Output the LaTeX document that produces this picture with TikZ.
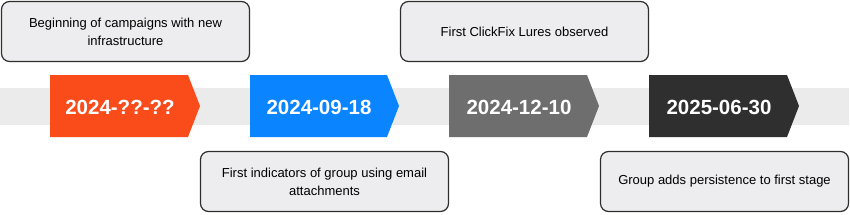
\documentclass[tikz,border=0pt]{standalone}
\usepackage{fontspec}
\setmainfont{Liberation Sans}
\usetikzlibrary{positioning}

\definecolor{bandgray}{HTML}{EBEBEB}
\definecolor{notefill}{HTML}{EDEDEF}
\definecolor{notedraw}{HTML}{2E2E2E}
\definecolor{dateorange}{HTML}{FA4B1A}
\definecolor{dateblue}{HTML}{0A84FF}
\definecolor{dategray}{HTML}{6E6E6E}
\definecolor{datedark}{HTML}{2F2F2F}

\begin{document}
\begin{tikzpicture}[
  x=1pt,y=-1pt,
  note/.style={draw=notedraw,fill=notefill,rounded corners=8pt,line width=1.2pt,
    minimum width=248pt,minimum height=60pt,align=center,
    font=\fontsize{13}{18}\selectfont},
  datelabel/.style={text=white,font=\bfseries\fontsize{20.5}{24}\selectfont},
]
  \useasboundingbox (0,0) rectangle (850,214);

  % Bande de fond
  \fill[bandgray] (0,88) rectangle (849,125);

  % Fleches des dates
  \fill[dateorange] (50,75)  -- ++(138,0) -- ++(12,31) -- ++(-12,31) -- ++(-138,0) -- cycle;
  \fill[dateblue]   (250,75) -- ++(137,0) -- ++(12,31) -- ++(-12,31) -- ++(-137,0) -- cycle;
  \fill[dategray]   (449,75) -- ++(138,0) -- ++(12,31) -- ++(-12,31) -- ++(-138,0) -- cycle;
  \fill[datedark]   (649,75) -- ++(138,0) -- ++(12,31) -- ++(-12,31) -- ++(-138,0) -- cycle;

  % Dates
  \node[datelabel] (d1) at (120,107) {2024-??-??};
  \node[datelabel] (d2) at (319,107) {2024-09-18};
  \node[datelabel] (d3) at (519,107) {2024-12-10};
  \node[datelabel] (d4) at (719,107) {2025-06-30};

  % Evenements
  \node[note] (n1) at (125.5,31.5) {Beginning of campaigns with new\\infrastructure};
  \node[note] (n2) at (324.5,181.5) {First indicators of group using email\\attachments};
  \node[note] (n3) at (524.5,31.5) {First ClickFix Lures observed};
  \node[note] (n4) at (724.5,181.5) {Group adds persistence to first stage};
\end{tikzpicture}
\end{document}
